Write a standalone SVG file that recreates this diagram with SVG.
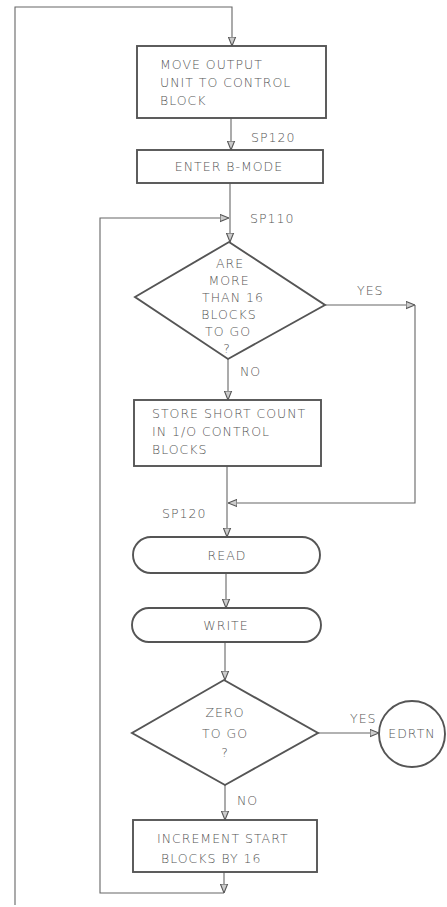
<svg xmlns="http://www.w3.org/2000/svg" width="447" height="907" viewBox="0 0 447 907">
<style>
.bg{fill:#ffffff}
.box{fill:none;stroke:#555;stroke-width:1.9}
.ln{fill:none;stroke:#666;stroke-width:1.1}
.t{font-family:"DejaVu Sans","Liberation Sans",sans-serif;font-size:12.5px;fill:#555;letter-spacing:1px;font-weight:300}
.c{text-anchor:middle}
</style>
<defs>
<marker id="ah" viewBox="0 0 10 10" refX="10" refY="5" markerWidth="9" markerHeight="9" markerUnits="userSpaceOnUse" orient="auto">
<path d="M0,1 L10,5 L0,9 Z" fill="#ccc" stroke="#555" stroke-width="1.2"/>
</marker>
</defs>
<rect class="bg" x="0" y="0" width="447" height="907"/>
<g id="connectors">
<path class="ln" d="M15,905 V7 H232 V46" marker-end="url(#ah)"/>
<path class="ln" d="M231,118 V150" marker-end="url(#ah)"/>
<path class="ln" d="M230,183 V242" marker-end="url(#ah)"/>
<path class="ln" d="M224,893 H100 V218 H229" marker-end="url(#ah)"/>
<path class="ln" d="M228,359 V400" marker-end="url(#ah)"/>
<path class="ln" d="M325,305 H415" marker-end="url(#ah)"/>
<path class="ln" d="M415,305 V503 H228" marker-end="url(#ah)"/>
<path class="ln" d="M227,466 V537" marker-end="url(#ah)"/>
<path class="ln" d="M226,573 V608" marker-end="url(#ah)"/>
<path class="ln" d="M225,642 V680" marker-end="url(#ah)"/>
<path class="ln" d="M318,733 H379" marker-end="url(#ah)"/>
<path class="ln" d="M225,785 V820" marker-end="url(#ah)"/>
<path class="ln" d="M224,872 V893" marker-end="url(#ah)"/>
</g>
<g id="labels">
<text class="t" x="251" y="142">SP120</text>
<text class="t" x="250" y="223">SP110</text>
<text class="t" x="357" y="295">YES</text>
<text class="t" x="240" y="376">NO</text>
<text class="t" x="162" y="518">SP120</text>
<text class="t" x="350" y="723">YES</text>
<text class="t" x="237" y="805">NO</text>
</g>
<g id="move-output">
<rect class="box" x="137" y="46" width="189" height="72"/>
<text class="t" x="160" y="69">MOVE OUTPUT</text>
<text class="t" x="160" y="87">UNIT TO CONTROL</text>
<text class="t" x="160" y="105">BLOCK</text>
</g>
<g id="enter-b-mode">
<rect class="box" x="137" y="150" width="186" height="33"/>
<text class="t c" x="229" y="171">ENTER B-MODE</text>
</g>
<g id="more-than-16">
<polygon class="box" points="229,242 325,305 228,359 135,297"/>
<text class="t c" x="230" y="268">ARE</text>
<text class="t c" x="229" y="285">MORE</text>
<text class="t c" x="233" y="302">THAN 16</text>
<text class="t c" x="229" y="319">BLOCKS</text>
<text class="t c" x="228" y="336">TO GO</text>
<text class="t c" x="227" y="353">?</text>
</g>
<g id="store-short-count">
<rect class="box" x="134" y="400" width="187" height="66"/>
<text class="t" x="152" y="418">STORE SHORT COUNT</text>
<text class="t" x="152" y="436">IN 1/O CONTROL</text>
<text class="t" x="152" y="454">BLOCKS</text>
</g>
<g id="read">
<rect class="box" x="133" y="537" width="187" height="36" rx="18"/>
<text class="t c" x="227" y="560">READ</text>
</g>
<g id="write">
<rect class="box" x="132" y="608" width="189" height="34" rx="17"/>
<text class="t c" x="226" y="630">WRITE</text>
</g>
<g id="zero-to-go">
<polygon class="box" points="224,680 318,733 225,785 132,733"/>
<text class="t c" x="225" y="717">ZERO</text>
<text class="t c" x="225" y="738">TO GO</text>
<text class="t c" x="225" y="757">?</text>
</g>
<g id="edrtn">
<circle class="box" cx="412" cy="734" r="33"/>
<text class="t c" x="412" y="738">EDRTN</text>
</g>
<g id="increment">
<rect class="box" x="133" y="820" width="184" height="52"/>
<text class="t" x="157" y="843">INCREMENT START</text>
<text class="t" x="161" y="863">BLOCKS BY 16</text>
</g>
</svg>
